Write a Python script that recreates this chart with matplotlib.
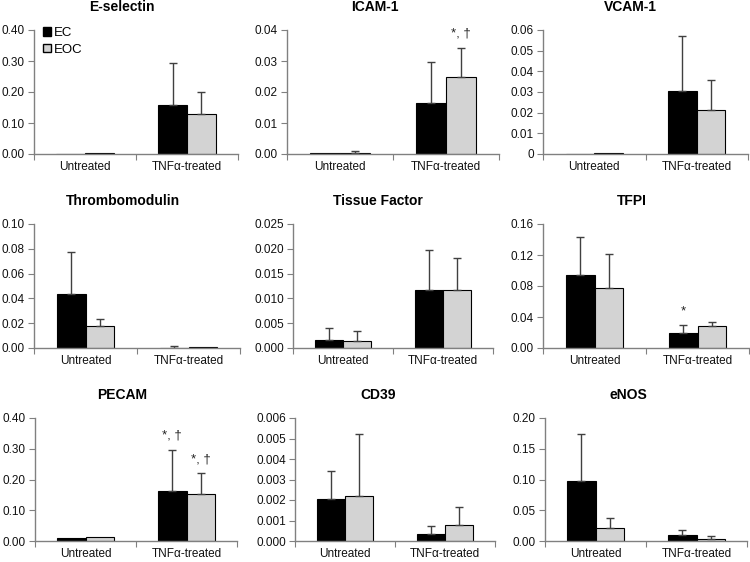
import numpy as np
import matplotlib
matplotlib.use("Agg")
import matplotlib.pyplot as plt
from matplotlib.patches import Patch
from matplotlib.ticker import FuncFormatter

plt.rcParams['font.family'] = ['Liberation Sans', 'DejaVu Sans']

# data (relative expression, mean and upper SD)
categories = ["Untreated", "TNF\u03b1-treated"]
markers = ["E-selectin", "ICAM-1", "VCAM-1", "Thrombomodulin", "Tissue Factor",
           "TFPI", "PECAM", "CD39", "eNOS"]

ec_mean = [[0.0, 0.158], [0.0003, 0.0163], [0.0, 0.0307],
           [0.0433, 0.0003], [0.00154, 0.01177], [0.0938, 0.0189],
           [0.0097, 0.162], [0.00205, 0.00035], [0.0973, 0.0091]]
ec_err = [[0.0, 0.134], [0.0, 0.0134], [0.0, 0.0263],
          [0.0344, 0.0012], [0.00246, 0.0080], [0.0492, 0.0103],
          [0.0, 0.134], [0.00135, 0.00039], [0.0767, 0.0092]]
eoc_mean = [[0.003, 0.129], [0.0004, 0.0247], [0.0005, 0.0212],
            [0.0177, 0.001], [0.00134, 0.0116], [0.0778, 0.028],
            [0.012, 0.152], [0.00218, 0.00079], [0.0204, 0.0038]]
eoc_err = [[0.0, 0.070], [0.0006, 0.0096], [0.0, 0.0144],
           [0.006, 0.0], [0.0020, 0.0066], [0.0432, 0.0055],
           [0.0, 0.068], [0.00302, 0.00087], [0.0172, 0.0037]]

# significance marks above bars
ec_marks = [["", ""], ["", ""], ["", ""], ["", ""], ["", ""], ["", "*"],
            ["", "*, \u2020"], ["", ""], ["", ""]]
eoc_marks = [["", ""], ["", "*, \u2020"], ["", ""], ["", ""], ["", ""], ["", ""],
             ["", "*, \u2020"], ["", ""], ["", ""]]

y_max = [0.40, 0.04, 0.06, 0.10, 0.025, 0.16, 0.40, 0.006, 0.20]
y_step = [0.10, 0.01, 0.01, 0.02, 0.005, 0.04, 0.10, 0.001, 0.05]
y_dec = [2, 2, 2, 2, 3, 2, 2, 3, 2]

# layout in pixels (left, right) per panel, plus title centres
W, H = 750, 562
x_span = [(34, 238), (287, 499), (543, 748),
          (34, 240), (293, 493), (543, 749),
          (35, 237), (295, 495), (545, 747)]
row_span = [(30, 154), (224, 348), (418, 541)]
title_x = [122, 375, 630, 123, 378, 632, 122, 378, 628]

fig = plt.figure(figsize=(7.5, 5.62), dpi=100)
axis_col = "#808080"
bw = 0.28
x = np.arange(len(categories))

for i, name in enumerate(markers):
    l, r = x_span[i]
    t, b = row_span[i // 3]
    ax = fig.add_axes([l / W, 1 - b / H, (r - l) / W, (b - t) / H])

    ax.bar(x - bw / 2, ec_mean[i], bw, color="black", edgecolor="black", linewidth=0.8)
    ax.bar(x + bw / 2, eoc_mean[i], bw, color="#d3d3d3", edgecolor="black", linewidth=0.8)

    for xs, m, e in [(x - bw / 2, ec_mean[i], ec_err[i]), (x + bw / 2, eoc_mean[i], eoc_err[i])]:
        m = np.array(m); e = np.array(e)
        keep = e > 0
        if keep.any():
            ax.errorbar(xs[keep], m[keep], yerr=[np.zeros(keep.sum()), e[keep]],
                        fmt="none", ecolor="#404040", elinewidth=1, capsize=3, capthick=1)

    for xs, m, e, marks in [(x - bw / 2, ec_mean[i], ec_err[i], ec_marks[i]),
                            (x + bw / 2, eoc_mean[i], eoc_err[i], eoc_marks[i])]:
        for j in range(len(categories)):
            if marks[j]:
                ax.annotate(marks[j], (xs[j], m[j] + e[j]), xytext=(0, 6),
                            textcoords="offset points", ha="center", va="bottom",
                            fontsize=9.5, color="#222222")

    ax.set_xlim(-0.5, 1.5)
    ax.set_ylim(0, y_max[i])
    ax.set_yticks(np.arange(0, y_max[i] + y_step[i] / 2, y_step[i]))
    if name == "VCAM-1":
        ax.yaxis.set_major_formatter(FuncFormatter(lambda v, p: "0" if abs(v) < 1e-12 else f"{v:.2f}"))
    else:
        d = y_dec[i]
        ax.yaxis.set_major_formatter(FuncFormatter(lambda v, p, d=d: f"{v:.{d}f}"))

    ax.set_xticks([-0.5, 0.5, 1.5])
    ax.set_xticklabels([])
    ax.set_xticks(x, minor=True)
    ax.set_xticklabels(categories, minor=True)
    ax.tick_params(axis="x", which="major", length=4, color=axis_col, direction="out")
    ax.tick_params(axis="x", which="minor", length=0, pad=5, labelsize=8.5, labelcolor="#111111")
    ax.tick_params(axis="y", length=4, color=axis_col, pad=2.5, labelsize=8.5, labelcolor="#111111")

    for s in ["top", "right"]:
        ax.spines[s].set_visible(False)
    for s in ["left", "bottom"]:
        ax.spines[s].set_color(axis_col)
        ax.spines[s].set_linewidth(1)

    fig.text(title_x[i] / W, 1 - (t - 23) / H, name, ha="center", va="center",
             fontsize=10, fontweight="bold")

    if i == 0:
        handles = [Patch(facecolor="black", edgecolor="black", label="EC"),
                   Patch(facecolor="#d3d3d3", edgecolor="black", label="EOC")]
        ax.legend(handles=handles, loc="upper left", bbox_to_anchor=(0.02, 1.065),
                  frameon=False, fontsize=9.5, handlelength=0.6, handleheight=0.6,
                  handletextpad=0.2, labelspacing=0.35, borderaxespad=0)

fig.savefig("out.png", dpi=100)
